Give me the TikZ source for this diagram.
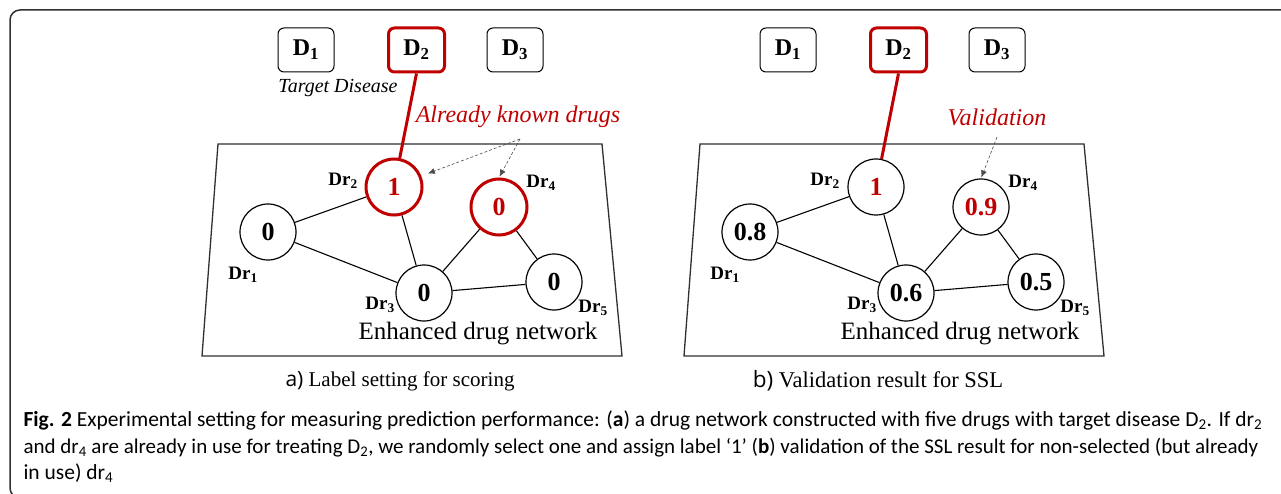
\documentclass[tikz,border=0pt]{standalone}
\usepackage{fontspec}
\setmainfont{Liberation Serif}
\newfontfamily\capfont{Carlito}
\newfontfamily\tagfont{Open Sans}
\usetikzlibrary{arrows.meta}
\definecolor{KR}{HTML}{C00000}
\definecolor{FR}{HTML}{303030}

\tikzset{
  dis/.style={draw, rounded corners=6pt, minimum width=56pt, minimum height=44pt, line width=1pt, font=\fontsize{24}{26}\selectfont\bfseries},
  dissel/.style={dis, draw=KR, line width=3pt},
  drug/.style={circle, draw, minimum size=56pt, inner sep=0pt, line width=1.2pt, font=\fontsize{26}{28}\selectfont\bfseries},
  drugsel/.style={drug, draw=KR, line width=3pt, text=KR},
  drlab/.style={font=\fontsize{19}{21}\selectfont\bfseries},
  note/.style={font=\fontsize{24}{26}\selectfont\itshape, text=KR},
  edge/.style={line width=1.1pt},
  hint/.style={densely dashed, line width=0.6pt, draw=black!70, -{Latex[length=7pt,width=6pt]}},
  netbox/.style={draw=FR, line width=1.3pt},
  nettitle/.style={font=\fontsize{25}{27}\selectfont},
  subcap/.style={font=\fontsize{21}{23}\selectfont},
  figcap/.style={anchor=base west, font=\capfont\fontsize{21.5}{24}\selectfont}
}

\begin{document}
\begin{tikzpicture}[x=1pt, y=-1pt]
\useasboundingbox (0,0) rectangle (1281,494);
% outer frame
\draw[FR, line width=1.5pt, rounded corners=10pt] (1300,10) -- (10,10) -- (10,498) -- (60,498);

% a) label setting
\draw[netbox] (218,144) -- (602,144) -- (622,356) -- (202,356) -- cycle;
\node[dis] (aD1) at (306,50) {D\textsubscript{1}};
\node[dissel] (aD2) at (416.5,50) {D\textsubscript{2}};
\node[dis] (aD3) at (515,50) {D\textsubscript{3}};
\node[font=\fontsize{20}{22}\selectfont\itshape] (aTarget) at (338,88) {Target Disease};
\node[note] (aKnown) at (518,117) {Already known drugs};
\node[drug] (aDr1) at (268,232) {0};
\node[drugsel] (aDr2) at (394,187) {1};
\node[drug] (aDr3) at (424,293) {0};
\node[drugsel] (aDr4) at (499,207) {0};
\node[drug] (aDr5) at (554,282) {0};
\node[drlab] (aL1) at (243,275) {Dr\textsubscript{1}};
\node[drlab] (aL2) at (343,181) {Dr\textsubscript{2}};
\node[drlab] (aL3) at (380,305) {Dr\textsubscript{3}};
\node[drlab] (aL4) at (541,183) {Dr\textsubscript{4}};
\node[drlab] (aL5) at (593,308) {Dr\textsubscript{5}};
\node[nettitle] (aNet) at (478,334) {Enhanced drug network};
\draw[KR, line width=3pt] (aD2.south) -- (aDr2);
\draw[edge] (aDr1) -- (aDr2);
\draw[edge] (aDr1) -- (aDr3);
\draw[edge] (aDr2) -- (aDr3);
\draw[edge] (aDr3) -- (aDr4);
\draw[edge] (aDr4) -- (aDr5);
\draw[edge] (aDr3) -- (aDr5);
\coordinate (aFrom) at (520,139);
\draw[hint, shorten >=7pt] (aFrom) -- (aDr2.22);
\draw[hint, shorten >=1pt] (aFrom) -- (aDr4.north);
\node[subcap] (aCap) at (400,381) {{\tagfont a)} Label setting for scoring};

% b) validation
\begin{scope}[xshift=482pt]
\draw[netbox] (218,144) -- (602,144) -- (622,356) -- (202,356) -- cycle;
\node[dis] (bD1) at (306,50) {D\textsubscript{1}};
\node[dissel] (bD2) at (416.5,50) {D\textsubscript{2}};
\node[dis] (bD3) at (515,50) {D\textsubscript{3}};
\node[note] (bValid) at (515,117) {Validation};
\node[drug] (bDr1) at (268,232) {0.8};
\node[drug, text=KR] (bDr2) at (394,187) {1};
\node[drug] (bDr3) at (424,293) {0.6};
\node[drug, text=KR] (bDr4) at (499,207) {0.9};
\node[drug] (bDr5) at (554,282) {0.5};
\node[drlab] (bL1) at (243,275) {Dr\textsubscript{1}};
\node[drlab] (bL2) at (343,181) {Dr\textsubscript{2}};
\node[drlab] (bL3) at (380,305) {Dr\textsubscript{3}};
\node[drlab] (bL4) at (541,183) {Dr\textsubscript{4}};
\node[drlab] (bL5) at (593,308) {Dr\textsubscript{5}};
\node[nettitle] (bNet) at (478,334) {Enhanced drug network};
\draw[KR, line width=3pt] (bD2.south) -- (bDr2);
\draw[edge] (bDr1) -- (bDr2);
\draw[edge] (bDr1) -- (bDr3);
\draw[edge] (bDr2) -- (bDr3);
\draw[edge] (bDr3) -- (bDr4);
\draw[edge] (bDr4) -- (bDr5);
\draw[edge] (bDr3) -- (bDr5);
\coordinate (bFrom) at (515,137);
\draw[hint, shorten >=1pt] (bFrom) -- (bDr4.north);
\node[subcap, font=\fontsize{22.5}{24}\selectfont] (bCap) at (396,381) {{\tagfont b)} Validation result for SSL};
\end{scope}

% figure caption
\node[figcap] (cap1) at (20,426) {\textbf{Fig. 2} Experimental setting for measuring prediction performance: (\textbf{a}) a drug network constructed with five drugs with target disease D\textsubscript{2}. If dr\textsubscript{2}};
\node[figcap, font=\capfont\fontsize{21}{24}\selectfont] (cap2) at (20,453) {and dr\textsubscript{4} are already in use for treating D\textsubscript{2}, we randomly select one and assign label ‘1’ (\textbf{b}) validation of the SSL result for non-selected (but already};
\node[figcap] (cap3) at (20,479) {in use) dr\textsubscript{4}};
\end{tikzpicture}
\end{document}
